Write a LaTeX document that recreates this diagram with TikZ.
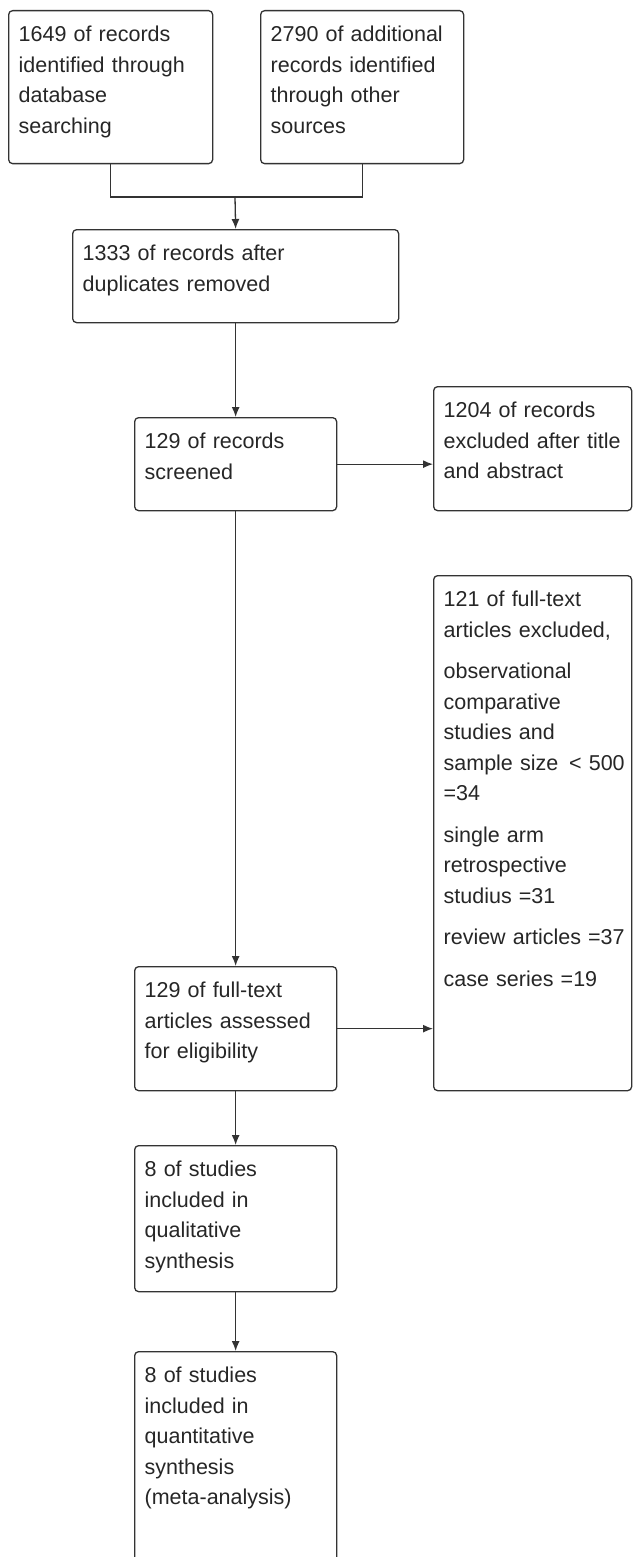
\documentclass[tikz,border=0pt]{standalone}
\usepackage{fontspec}
\setmainfont{Liberation Sans}
\usetikzlibrary{arrows.meta}
\begin{document}
\begin{tikzpicture}[x=1pt, y=-1pt,
	box/.style={draw=black!80, line width=1.3pt, rounded corners=4pt, anchor=north west, align=left,
		inner xsep=10pt, inner ysep=0pt, text height=31pt, text=black!85, font=\fontsize{21.5}{30.5}\selectfont},
	link/.style={draw=black!80, line width=1.3pt, -{Latex[length=10pt,width=8pt]}}]
	\clip (0,0) rectangle (634,1557);
	\node[box, text width=184pt, text depth=122pt] (A) at (8,10) {1649 of records\\identified through\\database\\searching};
	\node[box, text width=183pt, text depth=122pt] (B) at (260,10) {2790 of additional\\records identified\\through other\\sources};
	\node[box, text width=306pt, text depth=62pt] (C) at (72,229) {1333 of records after\\duplicates removed};
	\node[box, text width=182pt, text depth=62pt] (D) at (134,417) {129 of records\\screened};
	\node[box, text width=178pt, text depth=93pt] (E) at (433,386) {1204 of records\\\mbox{excluded after title}\\and abstract};
	\node[box, text width=178pt, text depth=484pt] (F) at (433,575) {121 of full-text\\articles excluded,\\[11pt]observational\\comparative\\studies and\\\mbox{sample size \,< 500}\\=34\\[11pt]single arm\\retrospective\\studius =31\\[11pt]\mbox{review articles =37}\\[11pt]case series =19};
	\node[box, text width=182pt, text depth=93pt] (G) at (134,966) {129 of full-text\\articles assessed\\for eligibility};
	\node[box, text width=182pt, text depth=115pt] (H) at (134,1145) {8 of studies\\included in\\qualitative\\synthesis};
	\node[box, text width=182pt, text depth=240pt] (I) at (134,1351) {8 of studies\\included in\\quantitative\\synthesis\\(meta-analysis)};
	\coordinate (J) at (235,197);
	\draw[link, -] (A.south) |- (J) -| (B.south);
	\draw[link] (J) -- (C.north);
	\draw[link] (C) -- (D);
	\draw[link] (D.east) -- (D.east -| E.west);
	\draw[link] (D) -- (G);
	\draw[link] (G.east) -- (G.east -| F.west);
	\draw[link] (G) -- (H);
	\draw[link] (H) -- (I);
\end{tikzpicture}
\end{document}
